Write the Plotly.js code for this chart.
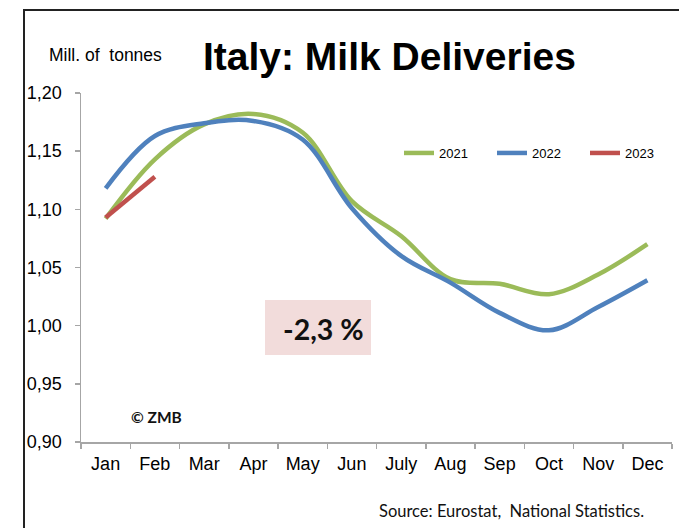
<!DOCTYPE html>
<html><head><meta charset="utf-8">
<script src="https://cdn.plot.ly/plotly-3.0.1.min.js"></script>
<style>
body{margin:0;background:#fff;overflow:hidden}
#frame{position:absolute;left:23px;top:9px;width:700px;height:600px;border-left:2px solid #222;border-top:2px solid #222;pointer-events:none;z-index:5}
</style>
</head><body>
<div id="chart" style="position:absolute;left:0;top:0;width:679px;height:528px"></div>
<div id="frame"></div>
<script>
const months = ["Jan","Feb","Mar","Apr","May","Jun","July","Aug","Sep","Oct","Nov","Dec"];
const y2021 = [1.092,1.143,1.173,1.182,1.166,1.107,1.077,1.040,1.036,1.027,1.044,1.070];
const y2022 = [1.118,1.163,1.174,1.176,1.160,1.101,1.060,1.037,1.011,0.996,1.016,1.039];
const y2023 = [1.093,1.128];
const yTicks = [0.90,0.95,1.00,1.05,1.10,1.15,1.20];
const seriesNames = ["2021","2022","2023"];
const colors = ["#9BBB59","#4F81BD","#C0504D"];

const L = 81, R = 672, T = 93, B = 442;
const px = x => (x - L) / (R - L);
const py = y => (B - y) / (B - T);

const mk = (name, xs, ys, c) => ({
  type: "scatter", mode: "lines", name: name, x: xs, y: ys,
  line: {color: c, width: 4.5, shape: "spline", smoothing: 1},
  hoverinfo: "skip"
});

const data = [
  mk(seriesNames[0], months, y2021, colors[0]),
  mk(seriesNames[1], months, y2022, colors[1]),
  mk(seriesNames[2], months.slice(0, y2023.length), y2023, colors[2])
];

const sans = "Liberation Sans, Arial, sans-serif";
const cal = "Lato, Open Sans, sans-serif";

const layout = {
  width: 679, height: 528, autosize: false,
  margin: {l: L, r: 679 - R, t: T, b: 528 - B, pad: 0, autoexpand: false},
  paper_bgcolor: "#fff", plot_bgcolor: "#fff",
  separators: ", ",
  showlegend: true,
  font: {family: sans, color: "#000"},
  xaxis: {
    type: "category", categoryorder: "array", categoryarray: months,
    range: [-0.5, 11.5], fixedrange: true, automargin: false,
    showline: true, linecolor: "#A6A6A6", linewidth: 1.5,
    ticks: "outside", tickson: "boundaries", ticklen: 5, tickcolor: "#A6A6A6", tickwidth: 1.5,
    ticklabelstandoff: 5,
    showgrid: false, zeroline: false,
    tickfont: {family: sans, size: 18, color: "#000"}
  },
  yaxis: {
    range: [0.9, 1.2], fixedrange: true, automargin: false,
    tickvals: yTicks, tickformat: ".2f",
    showline: true, linecolor: "#A6A6A6", linewidth: 1.5,
    ticks: "outside", ticklen: 5, tickcolor: "#A6A6A6", tickwidth: 1.5,
    ticklabelstandoff: 9,
    showgrid: false, zeroline: false,
    tickfont: {family: sans, size: 18, color: "#000"}
  },
  legend: {
    orientation: "h", x: px(399), xanchor: "left", y: py(153), yanchor: "middle",
    font: {family: sans, size: 13, color: "#000"},
    entrywidth: 48, entrywidthmode: "pixels", itemwidth: 30,
    bgcolor: "rgba(0,0,0,0)", traceorder: "normal"
  },
  shapes: [
    {type: "rect", xref: "paper", yref: "paper", x0: px(265), x1: px(371), y0: py(355), y1: py(300),
     fillcolor: "#F2DCDB", line: {width: 0}, layer: "below"}
  ],
  annotations: [
    {text: "<b>Italy: Milk Deliveries</b>", xref: "paper", yref: "paper", x: px(389.5), y: py(57),
     xanchor: "center", yanchor: "middle", showarrow: false, font: {family: sans, size: 39, color: "#000"}},
    {text: "Mill. of  tonnes", xref: "paper", yref: "paper", x: px(47), y: py(55),
     xanchor: "left", yanchor: "middle", showarrow: false, font: {family: sans, size: 17.5, color: "#000"}},
    {text: "<b>-2,3 %</b>", xref: "paper", yref: "paper", x: px(366), y: py(329),
     xanchor: "right", yanchor: "middle", showarrow: false, font: {family: cal, size: 28.5, color: "#111"}},
    {text: "<b>© ZMB</b>", xref: "paper", yref: "paper", x: px(156.5), y: py(417),
     xanchor: "center", yanchor: "middle", showarrow: false, font: {family: cal, size: 15.5, color: "#111"}},
    {text: "Source: Eurostat,  National Statistics.", xref: "paper", yref: "paper", x: px(377), y: py(511),
     xanchor: "left", yanchor: "middle", showarrow: false, font: {family: cal, size: 16.5, color: "#111"}}
  ]
};

Plotly.newPlot("chart", data, layout, {staticPlot: true, displayModeBar: false});
</script>
</body></html>
